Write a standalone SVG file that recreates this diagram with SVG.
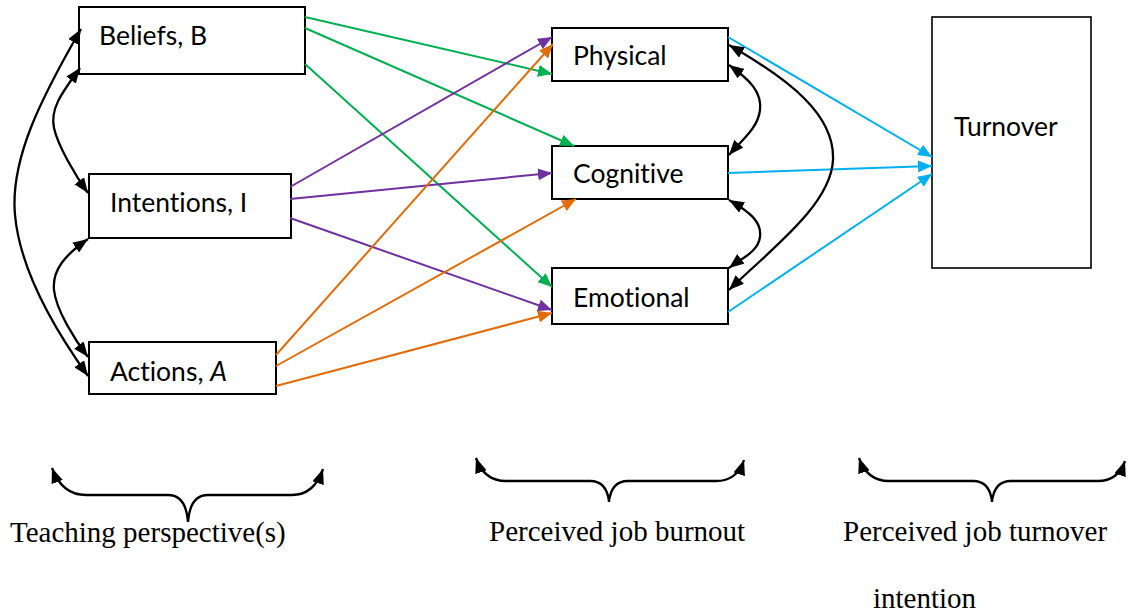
<svg xmlns="http://www.w3.org/2000/svg" width="1128" height="616" viewBox="0 0 1128 616">
<style>
.box{fill:#fff;stroke:#000;stroke-width:2}
.lbl{font-family:Lato,"Liberation Sans",sans-serif;font-size:26.5px;fill:#000;font-variant-ligatures:none;font-feature-settings:"liga" 0}
.cap{font-family:"Liberation Serif","Times New Roman",serif;font-size:29px;fill:#000}
.g{stroke:#00B050;stroke-width:2;fill:none;marker-end:url(#mg)}
.p{stroke:#7030A0;stroke-width:2;fill:none;marker-end:url(#mp)}
.o{stroke:#E36C09;stroke-width:2;fill:none;marker-end:url(#mo)}
.b{stroke:#00B0F0;stroke-width:2;fill:none;marker-end:url(#mb)}
.k{stroke:#000;stroke-width:2.3;fill:none;marker-start:url(#mk);marker-end:url(#mk)}
</style>
<defs>
<marker id="mg" markerUnits="userSpaceOnUse" markerWidth="14" markerHeight="12" viewBox="0 0 14 12" refX="14" refY="6" orient="auto"><path d="M0,0 L14,6 L0,12 z" fill="#00B050"/></marker>
<marker id="mp" markerUnits="userSpaceOnUse" markerWidth="14" markerHeight="12" viewBox="0 0 14 12" refX="14" refY="6" orient="auto"><path d="M0,0 L14,6 L0,12 z" fill="#7030A0"/></marker>
<marker id="mo" markerUnits="userSpaceOnUse" markerWidth="14" markerHeight="12" viewBox="0 0 14 12" refX="14" refY="6" orient="auto"><path d="M0,0 L14,6 L0,12 z" fill="#E36C09"/></marker>
<marker id="mb" markerUnits="userSpaceOnUse" markerWidth="14" markerHeight="12" viewBox="0 0 14 12" refX="14" refY="6" orient="auto"><path d="M0,0 L14,6 L0,12 z" fill="#00B0F0"/></marker>
<marker id="mk" markerUnits="userSpaceOnUse" markerWidth="15" markerHeight="12" viewBox="0 0 15 12" refX="15" refY="6" orient="auto-start-reverse"><path d="M0,0 L15,6 L0,12 z" fill="#000"/></marker>
</defs>
<rect width="1128" height="616" fill="#fff"/>
<g id="node-beliefs"><rect class="box" x="79" y="7" width="226" height="67"/><text class="lbl" x="99" y="45">Beliefs, B</text></g>
<g id="node-intentions"><rect class="box" x="89" y="174" width="202" height="64"/><text class="lbl" x="110" y="212">Intentions, I</text></g>
<g id="node-actions"><rect class="box" x="89" y="342" width="187" height="52"/><text class="lbl" x="110" y="381">Actions, <tspan font-style="italic">A</tspan></text></g>
<g id="node-physical"><rect class="box" x="552" y="28" width="176" height="53"/><text class="lbl" x="573" y="65">Physical</text></g>
<g id="node-cognitive"><rect class="box" x="552" y="146" width="176" height="53"/><text class="lbl" x="573" y="183">Cognitive</text></g>
<g id="node-emotional"><rect class="box" x="552" y="268" width="176" height="56"/><text class="lbl" x="573" y="307">Emotional</text></g>
<g id="node-turnover"><rect class="box" x="932" y="17" width="159" height="251" style="stroke-width:1.6"/><text class="lbl" x="954" y="136">Turnover</text></g>
<g id="connectors">
<path class="g" d="M305,17 L552,74"/>
<path class="g" d="M305,28 L574,146"/>
<path class="g" d="M305,64 L552,287"/>
<path class="p" d="M290,187 L552,37"/>
<path class="p" d="M290,199 L552,173"/>
<path class="p" d="M290,218 L552,310"/>
<path class="o" d="M276,355 L553,44"/>
<path class="o" d="M276,366 L576,199"/>
<path class="o" d="M276,386 L552,313"/>
<path class="b" d="M728,37 L932,157"/>
<path class="b" d="M728,173 L932,166"/>
<path class="b" d="M728,312 L932,174"/>
<path class="k" d="M81,29 C40,100 10,160 15,215 S55,330 88,376"/>
<path class="k" d="M80,68 C60,95 50,110 54,128 S75,175 88,193"/>
<path class="k" d="M88,239 C65,255 52,270 54,290 S75,340 88,357"/>
<path class="k" d="M729,65 C750,80 762,92 760,110 S742,140 729,155"/>
<path class="k" d="M729,200 C750,212 762,222 760,237 S742,258 729,268"/>
<path class="k" d="M729,45 C790,80 835,115 833,160 S770,250 729,290"/>
</g>
<g id="brace-teaching"><path class="k" d="M52,468 Q62,495 86,495 L168,495 Q186,495 188,522 Q190,495 208,495 L292,495 Q314,495 323,469"/><text class="cap" x="10" y="542">Teaching perspective(s)</text></g>
<g id="brace-burnout"><path class="k" d="M476,458 Q484,481 506,481 L590,481 Q607,481 609,502 Q611,481 628,481 L716,481 Q737,481 744,460"/><text class="cap" x="489" y="541">Perceived job burnout</text></g>
<g id="brace-turnover"><path class="k" d="M859,458 Q867,481 889,481 L973,481 Q990,481 992,502 Q994,481 1011,481 L1098,481 Q1118,481 1125,461"/><text class="cap" x="843" y="541">Perceived job turnover</text><text class="cap" x="873" y="608">intention</text></g>
</svg>
